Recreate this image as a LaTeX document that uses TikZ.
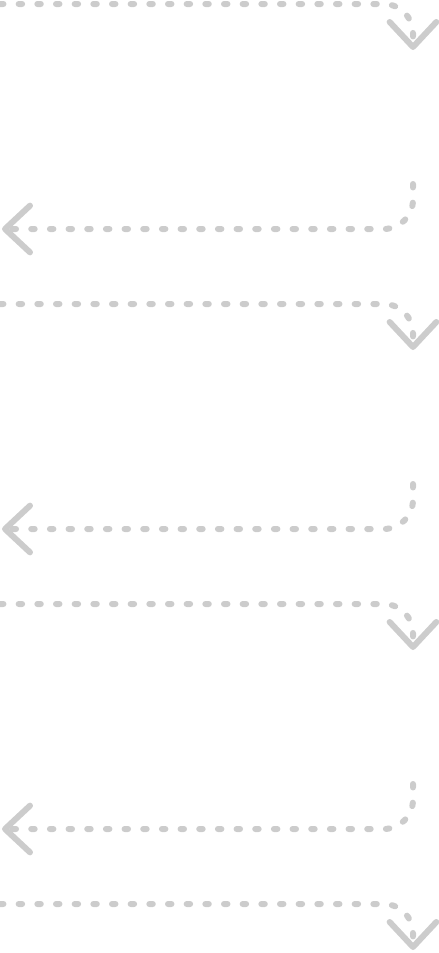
\documentclass[tikz,border=0pt]{standalone}
\usepackage{tikz}
\usetikzlibrary{arrows.meta}

\begin{document}
\begin{tikzpicture}[x=0.75pt,y=-0.75pt,
  flow/.style={gray!40,line width=4.5pt,line cap=round,
    dash pattern=on 2.6pt off 11.4pt,rounded corners=22pt,
    -{Straight Barb[length=18.75pt,width=35pt,round]}}]
 \useasboundingbox (0,0) rectangle (439,953);
 % --- runs to the right, turning down ---
 \foreach \k in {0,...,3} {
   \coordinate (r\k) at (0,{4+300*\k});
   \coordinate (rc\k) at (413,{4+300*\k});
   \coordinate (rd\k) at (413,{50+300*\k});
   \draw[flow] (r\k) -- (rc\k) -- (rd\k);
 }
 % --- runs back to the left ---
 \foreach \k in {0,...,2} {
   \coordinate (l\k) at (413,{184+300*\k});
   \coordinate (lc\k) at (413,{229+300*\k});
   \coordinate (ld\k) at (2,{229+300*\k});
   \draw[flow] (l\k) -- (lc\k) -- (ld\k);
 }
\end{tikzpicture}
\end{document}
